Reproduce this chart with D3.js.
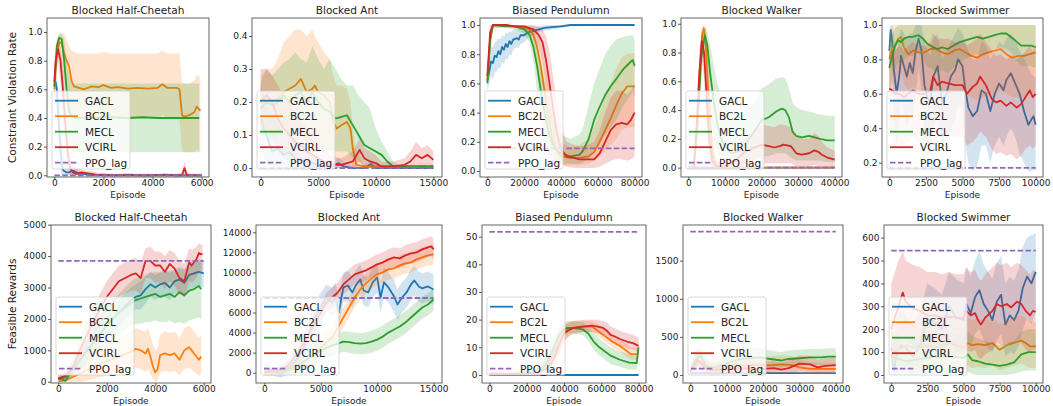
<!DOCTYPE html>
<html><head><meta charset="utf-8">
<script src="https://cdn.jsdelivr.net/npm/d3@7/dist/d3.min.js"></script>
<style>body{margin:0;background:#fff}svg{display:block}text{font-family:"DejaVu Sans",sans-serif;fill:#222}</style>
</head><body>
<script>
// ---------- categories / labels ----------
const seriesNames = ["GACL","BC2L","MECL","VCIRL","PPO_lag"];
const envTitles = ["Blocked Half-Cheetah","Blocked Ant","Biased Pendulumn","Blocked Walker","Blocked Swimmer"];
const rowLabels = ["Constraint Violation Rate","Feasible Rewards"];
const xLabel = "Episode";
// tick labels
const hcXTicks = [0,2000,4000,6000];
const antXTicks = [0,5000,10000,15000];
const pendXTicks = [0,20000,40000,60000,80000];
const walkXTicks = [0,10000,20000,30000,40000];
const swimXTicks = [0,2500,5000,7500,10000];
const cvrTicks01 = [0,0.2,0.4,0.6,0.8,1.0];
const antCvrTicks = [0,0.1,0.2,0.3,0.4];
const swimCvrTicks = [0.2,0.4,0.6,0.8,1.0];
const hcRewTicks = [0,1000,2000,3000,4000,5000];
const antRewTicks = [0,2000,4000,6000,8000,10000,12000,14000];
const pendRewTicks = [0,10,20,30,40,50];
const walkRewTicks = [0,500,1000,1500];
const swimRewTicks = [0,100,200,300,400,500,600];
// PPO_lag constant levels and last episode of each env
const ppoCvr = [0, 0, 0.155, 0, 0.17];
const ppoRew = [3850, 7450, 51.7, 1880, 543];
const lastEpisode = [6000, 15000, 80000, 40000, 10000];

// ---------- series: [episode, mean, lower, upper] ----------
// Constraint violation rate - Blocked Half-Cheetah
const cvrHC_GACL = [[0,.63,.55,.7],[50,.65,.55,.72],[100,.6,.45,.7],[150,.45,.3,.6],[200,.3,.15,.5],[250,.18,.05,.42],[300,.08,0,.3],[350,.04,0,.18],[400,.03,0,.12],[500,.02,0,.07],[600,.02,0,.05],[700,.03,0,.06],[800,.03,0,.06],[900,.02,0,.05],[1000,.01,0,.03],[1200,.01,0,.02],[1500,0,0,.01],[2000,.005,0,.01],[2500,0,0,.01],[3000,.005,0,.01],[3500,0,0,.01],[4000,0,0,.01],[4500,.005,0,.01],[5000,0,0,.01],[5500,0,0,.01],[6000,0,0,.01]];
const cvrHC_BC2L = [[0,.6,.55,.65],[100,.85,.75,.95],[200,.93,.85,.99],[300,.92,.8,.99],[400,.85,.65,.99],[500,.8,.55,.95],[600,.76,.45,.9],[700,.66,.42,.87],[800,.62,.4,.86],[1000,.61,.4,.85],[1200,.6,.4,.85],[1500,.62,.4,.85],[1800,.615,.4,.85],[2000,.63,.41,.86],[2300,.61,.4,.85],[2600,.615,.4,.85],[3000,.605,.4,.85],[3400,.61,.4,.85],[3800,.605,.4,.85],[4200,.61,.4,.85],[4400,.635,.42,.87],[4600,.61,.4,.85],[5000,.61,.4,.85],[5100,.6,.39,.85],[5200,.42,.17,.65],[5300,.41,.16,.64],[5500,.42,.16,.64],[5700,.44,.16,.66],[5800,.48,.18,.7],[5850,.47,.17,.7],[5950,.45,.16,.68]];
const cvrHC_MECL = [[0,.62,.58,.66],[100,.9,.85,.95],[200,.96,.93,.99],[300,.95,.9,.99],[400,.8,.6,.95],[500,.6,.35,.8],[600,.45,.2,.7],[700,.41,.17,.65],[800,.4,.16,.64],[1500,.4,.16,.64],[2200,.405,.16,.64],[3000,.4,.16,.64],[3600,.405,.16,.64],[4200,.4,.16,.64],[5000,.4,.16,.64],[5900,.4,.16,.64]];
const cvrHC_VCIRL = [[0,.65,.6,.7],[50,.8,.7,.9],[150,.88,.8,.95],[250,.8,.65,.9],[350,.6,.4,.75],[450,.35,.15,.5],[550,.15,.05,.3],[650,.05,0,.15],[750,.02,0,.08],[900,.01,0,.05],[1100,.02,0,.04],[1300,.015,0,.03],[1500,.01,0,.03],[1700,.005,0,.02],[2000,0,0,.01],[3000,0,0,.01],[4000,0,0,.01],[5000,0,0,.01],[5200,0,0,.02],[5300,.05,0,.1],[5400,0,0,.02],[5600,0,0,.01],[6000,0,0,.01]];
// Constraint violation rate - Blocked Ant
const cvrAnt_GACL = [[0,.15,.05,.25],[500,.1,.02,.2],[1000,.05,0,.15],[1500,.06,0,.14],[2000,.04,0,.1],[2500,.05,0,.12],[3000,.03,0,.08],[4000,.02,0,.05],[5000,.01,0,.03],[6000,.005,0,.02],[6800,.015,0,.03],[7200,.005,0,.02],[8000,0,0,.01],[9000,0,0,.01],[9600,.012,0,.02],[10000,0,0,.01],[11000,0,0,.005],[15000,0,0,.005]];
const cvrAnt_BC2L = [[0,.2,.12,.28],[500,.22,.1,.3],[1000,.2,.08,.3],[1500,.21,.1,.33],[2000,.23,.1,.38],[2500,.24,.08,.4],[3000,.25,.08,.42],[3500,.27,.1,.42],[4000,.23,.07,.4],[4500,.24,.08,.42],[4700,.25,.08,.4],[5000,.23,.06,.38],[5500,.22,.05,.35],[6000,.2,.05,.33],[6300,.14,.03,.28],[6600,.12,.02,.25],[7000,.13,.02,.25],[7500,.14,.02,.24],[7800,.12,.02,.2],[8000,.06,0,.12],[8300,.01,0,.05],[9000,.005,0,.01],[10000,.005,0,.01],[15000,.005,0,.01]];
const cvrAnt_MECL = [[0,.18,.1,.26],[500,.2,.1,.3],[1000,.19,.08,.28],[1500,.2,.1,.3],[2000,.22,.12,.32],[2500,.2,.1,.33],[3000,.22,.12,.35],[3500,.23,.1,.33],[4000,.2,.08,.32],[4500,.23,.1,.37],[5000,.2,.08,.33],[5500,.18,.06,.3],[6000,.17,.05,.33],[6500,.15,.05,.3],[7000,.155,.05,.27],[7500,.16,.05,.25],[8000,.13,.03,.25],[8500,.1,.02,.22],[9000,.07,.01,.2],[9500,.06,0,.18],[10000,.05,0,.12],[10500,.04,0,.08],[11000,.02,0,.05],[11500,.005,0,.02],[12000,.005,0,.01],[15000,.005,0,.01]];
const cvrAnt_VCIRL = [[0,.2,.1,.3],[500,.22,.12,.3],[1000,.2,.1,.28],[1500,.15,.05,.25],[2000,.12,.03,.22],[2500,.1,.02,.2],[3000,.08,.01,.16],[3500,.07,0,.15],[4000,.05,0,.12],[5000,.03,0,.08],[6000,.01,0,.04],[7000,.01,0,.03],[8000,.02,0,.05],[8600,.055,.02,.09],[9000,.03,0,.06],[9500,.02,0,.05],[10000,.015,0,.04],[10500,.005,0,.02],[11500,.005,0,.02],[12500,.01,0,.03],[13000,.02,0,.05],[13500,.04,.01,.08],[14000,.03,0,.06],[14500,.04,.01,.07],[15000,.025,0,.05]];
// Constraint violation rate - Biased Pendulumn
const cvrPend_GACL = [[0,.62,.55,.7],[1000,.68,.6,.78],[2000,.75,.65,.85],[3000,.74,.63,.85],[4000,.79,.68,.88],[5000,.78,.68,.89],[6000,.82,.71,.91],[7000,.8,.7,.9],[8000,.85,.75,.93],[9000,.83,.73,.92],[10000,.87,.77,.95],[11000,.85,.76,.94],[12000,.89,.8,.96],[13000,.87,.79,.95],[14000,.9,.83,.97],[16000,.91,.85,.97],[17000,.9,.84,.97],[18000,.93,.87,.98],[20000,.93,.88,.98],[22000,.95,.91,.99],[25000,.96,.93,.99],[28000,.97,.95,.99],[31000,.98,.96,1],[35000,.985,.97,1],[40000,.99,.98,1],[45000,1,.99,1],[50000,1,.99,1],[60000,1,1,1],[70000,1,1,1],[80000,1,1,1]];
const cvrPend_BC2L = [[0,.62,.6,.66],[1500,.9,.8,.97],[3000,1,.98,1],[10000,1,.99,1],[15000,.99,.98,1],[20000,.985,.96,1],[23000,.97,.93,.99],[25000,.93,.85,.98],[27000,.85,.72,.95],[29000,.72,.55,.88],[31000,.55,.38,.75],[33000,.38,.22,.6],[35000,.24,.12,.45],[37000,.15,.07,.3],[40000,.1,.04,.2],[45000,.09,.04,.16],[50000,.09,.04,.18],[55000,.1,.05,.22],[58000,.13,.07,.3],[61000,.2,.1,.4],[64000,.28,.14,.5],[67000,.36,.18,.6],[70000,.45,.22,.7],[73000,.53,.28,.78],[76000,.58,.3,.8],[80000,.58,.3,.81]];
const cvrPend_MECL = [[0,.6,.58,.64],[1500,.9,.8,.97],[3000,1,.98,1],[10000,.99,.98,1],[15000,.99,.97,1],[20000,.97,.94,.99],[23000,.93,.88,.98],[25000,.85,.75,.95],[27000,.72,.55,.88],[29000,.55,.35,.75],[31000,.4,.2,.62],[33000,.28,.12,.5],[35000,.2,.07,.38],[37000,.15,.05,.3],[40000,.12,.05,.25],[45000,.1,.05,.22],[50000,.11,.05,.25],[52000,.14,.06,.3],[55000,.22,.08,.45],[58000,.35,.15,.6],[61000,.44,.2,.7],[64000,.52,.25,.8],[67000,.58,.3,.86],[70000,.63,.35,.9],[74000,.7,.45,.92],[78000,.75,.52,.93],[79000,.76,.55,.93],[80000,.72,.5,.9]];
const cvrPend_VCIRL = [[0,.65,.6,.7],[1500,.95,.9,1],[3000,1,.99,1],[10000,1,.99,1],[15000,.99,.98,1],[20000,.99,.97,1],[25000,.97,.93,1],[28000,.93,.85,.99],[30000,.88,.75,.97],[32000,.75,.55,.92],[34000,.58,.35,.8],[36000,.4,.2,.62],[38000,.25,.1,.45],[40000,.15,.05,.32],[43000,.1,.03,.2],[47000,.09,.02,.18],[50000,.08,.02,.17],[55000,.08,.02,.18],[58000,.08,.02,.2],[61000,.12,.03,.28],[64000,.2,.05,.4],[67000,.28,.07,.5],[70000,.32,.08,.55],[73000,.33,.08,.55],[76000,.32,.07,.52],[78000,.35,.08,.55],[80000,.4,.1,.6]];
// Constraint violation rate - Blocked Walker
const cvrWalk_GACL = [[0,0,0,0],[10000,0,0,0],[20000,0,0,0],[30000,0,0,0],[40000,0,0,0]];
const cvrWalk_BC2L = [[0,0,0,0],[1500,0,0,.02],[2500,.3,.15,.45],[3200,.7,.5,.85],[3800,.92,.8,.98],[4200,.97,.9,.99],[4700,.9,.75,.98],[5300,.6,.35,.8],[6000,.3,.1,.5],[6700,.1,0,.25],[7500,.02,0,.08],[9000,0,0,.02],[15000,0,0,0],[40000,0,0,0]];
const cvrWalk_MECL = [[0,0,0,0],[1500,0,0,.02],[2500,.3,.2,.45],[3500,.75,.6,.9],[4500,.92,.85,.98],[5200,.85,.7,.95],[6000,.65,.4,.85],[7000,.45,.2,.7],[8000,.3,.1,.58],[9000,.2,.05,.5],[10000,.15,.03,.45],[11000,.12,.02,.4],[12000,.1,.01,.35],[14000,.12,.02,.35],[16000,.18,.03,.4],[18000,.25,.05,.45],[20000,.33,.08,.55],[22000,.35,.08,.58],[24000,.39,.1,.62],[25500,.41,.1,.63],[26500,.4,.1,.62],[27500,.35,.08,.55],[28500,.25,.06,.45],[29500,.22,.05,.42],[31000,.21,.05,.4],[33000,.22,.05,.39],[34500,.21,.05,.38],[36000,.2,.05,.37],[38000,.19,.04,.36],[40000,.19,.04,.36]];
const cvrWalk_VCIRL = [[0,0,0,0],[1500,0,0,.02],[2300,.3,.15,.45],[3000,.65,.45,.8],[3700,.88,.78,.95],[4300,.8,.6,.92],[5000,.5,.25,.7],[5700,.2,.05,.4],[6500,.05,0,.15],[7500,.01,0,.05],[9000,.005,0,.03],[11000,.02,0,.06],[13000,.05,0,.12],[15000,.1,.01,.2],[17000,.13,.02,.25],[19000,.15,.03,.28],[20000,.16,.03,.3],[22000,.15,.03,.29],[23500,.14,.03,.28],[25000,.15,.03,.3],[26000,.16,.03,.3],[28000,.15,.03,.28],[29500,.1,.01,.22],[31000,.09,.01,.2],[33000,.1,.01,.2],[34500,.12,.02,.24],[35500,.11,.01,.22],[36500,.09,.01,.18],[38000,.07,0,.14],[40000,.055,0,.12]];
// Constraint violation rate - Blocked Swimmer
const cvrSwim_GACL = [[0,.85,.7,.98],[100,.97,.9,1],[200,.9,.75,1],[300,.75,.5,.95],[500,.6,.3,.85],[700,.72,.45,.95],[800,.82,.6,.98],[1000,.76,.5,.95],[1200,.7,.4,.92],[1400,.78,.5,.95],[1600,.72,.45,.95],[1800,.85,.6,1],[2000,.92,.75,1],[2200,.85,.6,1],[2400,.65,.35,.9],[2600,.58,.3,.85],[2800,.55,.25,.82],[3000,.7,.4,.92],[3300,.76,.5,.95],[3600,.55,.25,.8],[3900,.6,.3,.85],[4200,.7,.4,.9],[4500,.74,.45,.95],[4700,.8,.55,.98],[5000,.76,.5,.95],[5200,.62,.3,.9],[5400,.52,.2,.85],[5700,.47,.15,.8],[6000,.5,.18,.8],[6300,.62,.3,.9],[6600,.6,.3,.88],[6900,.5,.2,.8],[7200,.6,.3,.85],[7500,.66,.35,.9],[7800,.62,.3,.88],[8000,.68,.35,.92],[8300,.72,.4,.95],[8600,.66,.35,.92],[8900,.6,.25,.85],[9200,.5,.2,.8],[9500,.42,.15,.75],[9700,.45,.15,.72],[9850,.47,.16,.7],[10000,.42,.15,.7]];
const cvrSwim_BC2L = [[0,.8,.6,.95],[200,.86,.65,1],[400,.88,.68,1],[600,.92,.72,1],[800,.93,.74,1],[1000,.87,.66,1],[1300,.83,.62,1],[1600,.85,.64,1],[2000,.84,.62,1],[2400,.84,.62,1],[2800,.86,.63,1],[3200,.86,.62,1],[3600,.84,.6,1],[4000,.83,.6,1],[4400,.85,.6,1],[4800,.86,.62,1],[5200,.84,.6,1],[5600,.82,.58,1],[6000,.81,.56,1],[6400,.83,.58,1],[6800,.84,.6,1],[7200,.85,.6,1],[7600,.86,.62,1],[8000,.83,.6,1],[8400,.81,.58,1],[8800,.82,.58,1],[9200,.82,.58,1],[9600,.83,.6,1],[10000,.84,.6,1]];
const cvrSwim_MECL = [[0,.75,.6,.9],[200,.82,.7,.95],[400,.88,.75,.98],[600,.91,.78,1],[800,.9,.78,1],[1000,.92,.8,1],[1300,.93,.82,1],[1600,.93,.82,1],[2000,.94,.84,1],[2300,.92,.8,1],[2600,.89,.76,1],[3000,.87,.74,1],[3300,.86,.72,1],[3600,.87,.74,1],[4000,.86,.72,1],[4400,.88,.75,1],[4800,.9,.78,1],[5200,.91,.8,1],[5600,.92,.82,1],[6000,.93,.83,1],[6400,.92,.82,1],[6800,.93,.84,1],[7200,.94,.86,1],[7600,.95,.87,1],[8000,.95,.86,1],[8300,.93,.84,1],[8600,.91,.8,1],[9000,.88,.76,1],[9400,.88,.76,1],[9700,.88,.76,1],[10000,.87,.75,1]];
const cvrSwim_VCIRL = [[0,.63,.35,.85],[200,.62,.35,.85],[400,.6,.3,.85],[700,.6,.3,.88],[1000,.58,.3,.85],[1300,.6,.32,.88],[1600,.62,.35,.9],[2000,.6,.32,.88],[2500,.6,.3,.88],[2800,.62,.3,.9],[3000,.7,.4,.95],[3300,.65,.35,.92],[3600,.67,.35,.92],[4000,.66,.35,.92],[4500,.65,.35,.9],[5000,.65,.35,.9],[5300,.6,.3,.88],[5700,.64,.32,.9],[6000,.66,.35,.92],[6200,.7,.38,.95],[6600,.65,.35,.9],[7000,.57,.28,.85],[7300,.55,.25,.82],[7600,.56,.26,.83],[8000,.53,.24,.8],[8300,.55,.25,.82],[8700,.52,.22,.8],[9000,.54,.24,.82],[9300,.58,.28,.85],[9600,.62,.3,.88],[9800,.58,.28,.85],[10000,.6,.3,.88]];

// Feasible rewards - Blocked Half-Cheetah
const rewHC_GACL = [[0,100,50,200],[300,150,50,300],[600,400,200,600],[1000,800,500,1100],[1500,1300,1000,1700],[2000,1800,1400,2200],[2500,2200,1800,2600],[3000,2600,2200,3000],[3200,2700,2300,3100],[3400,2750,2300,3200],[3600,2950,2500,3350],[3800,3100,2700,3500],[4000,3000,2600,3400],[4200,3100,2700,3500],[4400,3150,2700,3550],[4600,3000,2600,3450],[4800,3200,2800,3600],[5000,3250,2800,3650],[5200,3150,2700,3600],[5400,3400,2950,3800],[5600,3450,3000,3850],[5800,3500,3050,3900],[6000,3450,3000,3850]];
const rewHC_BC2L = [[0,0,0,100],[300,50,0,200],[600,150,0,400],[1000,300,0,700],[1500,500,100,1000],[2000,650,200,1200],[2500,800,300,1400],[3000,950,400,1600],[3200,1050,450,1700],[3400,1000,400,1650],[3600,900,300,1600],[3700,1050,400,1700],[3800,800,250,1500],[3900,500,100,1200],[4000,300,0,1000],[4100,400,50,1100],[4200,850,300,1500],[4400,900,350,1600],[4600,850,300,1550],[4800,900,350,1600],[5000,700,200,1400],[5200,1000,400,1700],[5400,1100,450,1800],[5500,1000,400,1700],[5600,900,300,1600],[5800,700,200,1400],[5900,800,250,1500]];
const rewHC_MECL = [[0,100,50,150],[150,80,30,150],[300,30,0,100],[500,300,100,500],[1000,800,400,1200],[1500,1300,800,1800],[2000,1800,1200,2400],[2500,2200,1500,2800],[3000,2500,1800,3200],[3200,2600,1850,3300],[3400,2650,1850,3350],[3600,2700,1900,3400],[3800,2750,1900,3450],[4000,2800,1950,3500],[4200,2700,1900,3450],[4400,2750,1900,3500],[4600,2800,1950,3550],[4800,2700,1850,3500],[5000,2850,1900,3600],[5200,2750,1850,3550],[5400,2900,1950,3700],[5600,2950,2000,3750],[5800,3050,2050,3850],[5900,2950,2000,3800]];
const rewHC_VCIRL = [[0,100,50,200],[300,200,100,350],[600,450,250,700],[1000,1200,800,1600],[1500,2000,1500,2500],[2000,2700,2200,3200],[2500,3200,2700,3700],[3000,3400,2900,3900],[3200,3450,2900,3950],[3400,3300,2800,3800],[3600,3850,3300,4250],[3800,3850,3300,4300],[4000,3700,3150,4150],[4200,3700,3150,4150],[4400,3500,2950,4000],[4600,3750,3200,4200],[4800,3600,3050,4100],[5000,3300,2800,3850],[5200,3200,2700,3750],[5400,3800,3200,4250],[5500,3700,3150,4200],[5700,3900,3300,4300],[5800,4100,3500,4400],[5950,4050,3500,4350]];
// Feasible rewards - Blocked Ant
const rewAnt_GACL = [[0,500,0,1000],[500,300,-200,800],[1000,0,-400,500],[1500,-100,-500,400],[2000,300,-200,900],[2500,800,0,1600],[3000,1500,500,2500],[3500,2500,1200,3800],[4000,4000,2500,5500],[4500,5500,4000,7000],[5000,6500,5000,8000],[5500,7500,6200,8800],[6000,7000,5500,8500],[6300,7500,6000,9000],[6600,6000,4500,7500],[7000,8500,7000,10000],[7400,8700,7200,10200],[7800,8000,6500,9500],[8100,8700,7200,10200],[8500,9300,7800,10800],[8800,8200,6700,9700],[9200,8000,6500,9500],[9600,9000,7500,10500],[10000,9500,8000,11000],[10300,7500,6000,9000],[10600,9000,7500,10500],[11000,8500,7000,10000],[11500,7600,6000,9200],[11800,6800,5300,8300],[12200,7500,6000,9000],[12600,8000,6500,9500],[13000,8800,7300,10300],[13300,9200,7700,10700],[13700,8600,7100,10100],[14000,8400,6900,9900],[14500,8600,7100,10100],[15000,8300,6800,9800]];
const rewAnt_BC2L = [[0,0,-300,300],[1000,50,-300,400],[2000,200,-200,600],[3000,600,0,1200],[4000,1500,700,2300],[5000,2500,1500,3500],[5500,3000,2000,4000],[6000,3500,2500,4500],[6500,4500,3500,5500],[7000,5500,4500,6500],[7500,6500,5500,7500],[8000,7500,6500,8500],[8500,8300,7300,9300],[9000,8900,7900,9900],[9500,9400,8400,10400],[10000,9800,8800,10800],[10500,10000,9000,11000],[11000,10300,9300,11300],[11500,10400,9400,11400],[12000,10700,9700,11700],[12500,10900,9900,11900],[13000,11000,10000,12000],[13500,11300,10300,12300],[14000,11500,10500,12500],[14500,11700,10700,12700],[15000,11800,10800,12800]];
const rewAnt_MECL = [[0,0,-300,300],[1000,100,-200,500],[2000,300,-200,900],[3000,800,0,1600],[4000,1500,500,2500],[5000,2200,1200,3200],[5500,2500,1500,3500],[6000,2700,1700,3700],[6500,2900,1900,3900],[7000,3100,2100,4100],[7500,3050,2000,4100],[8000,2950,1900,4000],[8500,2900,1850,3950],[9000,2950,1900,4000],[9500,3100,2000,4200],[10000,3300,2200,4400],[10500,3600,2500,4700],[11000,4000,2900,5100],[11500,4300,3200,5400],[12000,4600,3500,5700],[12500,5000,3900,6100],[13000,5500,4400,6600],[13500,6000,4900,7100],[14000,6500,5400,7600],[14500,6800,5700,7900],[15000,7300,6200,8400]];
const rewAnt_VCIRL = [[0,100,-200,400],[1000,200,-200,600],[2000,600,0,1200],[3000,2000,1000,3000],[4000,4000,3000,5000],[5000,6000,5000,7000],[5500,7000,6000,8000],[6000,7500,6500,8500],[6500,8000,7000,9000],[7000,8800,7800,9800],[7500,9300,8300,10300],[8000,9800,8800,10800],[8500,10000,9000,11000],[9000,10200,9200,11200],[9500,10500,9500,11500],[10000,10800,9800,11800],[10500,11000,10000,12000],[11000,11300,10300,12300],[11500,11500,10500,12500],[12000,11400,10400,12400],[12500,11700,10700,12700],[13000,11900,10900,12900],[13500,12000,11000,13000],[14000,12300,11300,13300],[14500,12500,11500,13500],[14800,12600,11600,13600],[15000,12300,11300,13300]];
// Feasible rewards - Biased Pendulumn
const rewPend_GACL = [[0,0,0,0],[20000,0,0,0],[40000,0,0,0],[60000,0,0,0],[80000,0,0,0]];
const rewPend_BC2L = [[0,.5,0,1.5],[10000,.3,0,1],[20000,.5,0,1.5],[25000,1,0,2.5],[28000,2,.5,4],[31000,4,1.5,7],[34000,7,3.5,11],[37000,11,7,15],[40000,15,12,18],[42000,16.5,14,19],[45000,17,15,19.5],[50000,17.5,15.5,19.5],[55000,17.5,15.5,19.5],[58000,16,14,18.5],[60000,15,13,17.5],[63000,13.5,11.5,16],[66000,12,10,14.5],[70000,10.5,8.5,13],[73000,9,7,11.5],[76000,7.5,5.5,10],[79000,7.5,5.5,10],[80000,8,6,10.5]];
const rewPend_MECL = [[0,.3,0,1],[10000,.3,0,1],[20000,.5,0,1.5],[25000,1,0,2.5],[28000,2,.5,4.5],[31000,5,2,9],[34000,9,5,13],[37000,14,10,17],[40000,16.5,14,19],[42000,17,15,19.5],[45000,17,15,19.5],[50000,16.5,14.5,19],[53000,15,12.5,17.5],[56000,12,9,15],[59000,10,7,13],[62000,8.5,5.5,11.5],[65000,7,4,10],[70000,5.5,3,8.5],[75000,4.5,2,7.5],[79000,4.3,2,7],[80000,10,7,13]];
const rewPend_VCIRL = [[0,.3,0,1],[10000,.3,0,1],[20000,.5,0,1.5],[25000,.8,0,2],[30000,2,.5,4],[33000,4,1.5,7],[36000,8,4.5,12],[38000,12,8.5,15.5],[40000,15,12,18],[42000,16,13.5,18.5],[45000,17,15,19.5],[50000,17.5,15.5,20],[55000,17.8,15.5,20],[58000,17.5,15,20],[61000,17,14.5,19.5],[63000,16,13.5,19],[65000,14.5,12,17.5],[67000,14,11.5,17],[70000,13,10.5,16],[74000,12,9.5,15],[77000,11.5,9,14.5],[80000,10.5,8,13.5]];
// Feasible rewards - Blocked Walker
const rewWalk_GACL = [[0,25,15,35],[10000,25,15,35],[20000,25,15,35],[30000,25,15,35],[40000,25,15,35]];
const rewWalk_BC2L = [[0,50,0,100],[1000,100,20,200],[2000,150,50,280],[3000,180,60,320],[4000,120,20,250],[5000,60,0,150],[7000,80,0,180],[10000,100,20,220],[13000,120,30,240],[16000,130,40,260],[20000,130,40,250],[22000,125,40,240],[25000,140,50,260],[28000,130,40,250],[30000,100,20,200],[33000,80,10,170],[36000,80,10,160],[40000,80,10,160]];
const rewWalk_MECL = [[0,50,0,100],[1000,150,50,250],[2000,230,100,350],[3000,250,120,380],[4000,150,40,280],[5000,100,20,220],[7000,100,20,230],[10000,150,50,280],[13000,200,80,330],[16000,220,100,350],[19000,230,110,350],[22000,210,100,320],[25000,190,90,300],[27000,210,110,320],[30000,220,120,330],[33000,230,130,340],[36000,230,130,340],[38000,240,140,350],[40000,240,140,350]];
const rewWalk_VCIRL = [[0,50,0,120],[1000,120,30,250],[2000,200,80,350],[3000,150,50,280],[4000,90,10,200],[6000,60,0,150],[9000,70,0,160],[12000,80,10,170],[16000,90,20,180],[20000,80,10,170],[23000,90,20,180],[25000,70,10,160],[27000,90,20,190],[30000,150,50,260],[33000,140,40,250],[35000,100,20,200],[37000,120,30,220],[40000,130,40,230]];
// Feasible rewards - Blocked Swimmer
const rewSwim_GACL = [[0,120,20,250],[200,20,0,150],[400,100,0,250],[700,130,20,280],[1000,120,20,260],[1500,80,0,220],[2000,130,20,280],[2500,250,100,400],[3000,230,80,380],[3500,200,60,350],[4000,300,150,450],[4500,250,100,420],[5000,240,100,400],[5200,310,150,470],[5500,270,120,430],[5800,340,180,500],[6100,370,200,540],[6400,310,150,480],[6700,280,120,450],[7000,240,100,420],[7300,320,150,490],[7600,350,180,520],[7900,220,80,400],[8200,260,100,430],[8500,240,90,410],[8800,280,120,460],[9100,380,200,560],[9400,430,250,600],[9700,400,220,610],[10000,450,280,620]];
const rewSwim_BC2L = [[0,100,20,200],[500,110,20,220],[1000,130,30,240],[1500,120,20,230],[2000,120,20,230],[2500,130,30,240],[3000,120,20,230],[3500,125,25,235],[4000,140,40,250],[4500,130,30,240],[5000,120,20,230],[5300,140,40,250],[5600,130,30,240],[6000,135,35,245],[6500,130,30,240],[7000,140,40,250],[7500,110,20,220],[8000,130,30,240],[8500,140,40,250],[9000,150,50,260],[9300,140,40,250],[9600,125,30,235],[10000,125,30,230]];
const rewSwim_MECL = [[0,80,10,180],[500,70,5,170],[1000,60,0,160],[2000,70,0,170],[3000,80,5,180],[4000,80,10,180],[5000,75,5,180],[5300,90,15,190],[5600,65,5,170],[6000,60,0,160],[6500,50,0,150],[7000,45,0,140],[7500,40,0,130],[8000,45,0,140],[8500,55,5,150],[9000,90,15,190],[9500,100,20,200],[10000,100,20,200]];
const rewSwim_VCIRL = [[0,200,80,400],[300,260,100,460],[500,300,130,500],[800,360,180,540],[1000,320,150,500],[1500,290,130,480],[2000,280,120,470],[2500,260,100,450],[3000,260,100,450],[3500,250,90,440],[4000,255,90,450],[4500,250,90,440],[5000,250,90,440],[5200,280,110,470],[5500,260,100,450],[5800,270,110,460],[6000,240,80,430],[6200,220,70,410],[6500,250,90,440],[7000,280,110,470],[7300,310,140,490],[7600,300,130,480],[8000,310,140,490],[8300,295,130,470],[8700,320,150,490],[9000,310,140,480],[9300,280,110,460],[9600,260,100,440],[9800,280,110,460],[10000,275,110,450]];

// ---------- layout ----------
const W = 1053, H = 406;
const colors = ["#1f77b4","#ff7f0e","#2ca02c","#d62728","#9467bd"];
const rows = [{t:18,b:177},{t:225,b:383}];
const frames = [
  [[47,209],[252,442],[480,642],[681,842],[882,1043]],
  [[51,211],[256,442],[482,646],[683,843],[884,1043]]
];
const xDomains = [[-300,6300],[-750,15750],[-4000,84000],[-2000,42000],[-500,10500]];
const xTicksAll = [hcXTicks, antXTicks, pendXTicks, walkXTicks, swimXTicks];
const yDomains = [
  [[-0.012,1.098],[-0.027,0.4545],[-0.041,1.048],[-0.065,1.04],[0.117,1.04]],
  [[-40,4990],[-1027,14728],[-2.9,54.2],[-105,1968],[-35,655]]
];
const yTicksAll = [[cvrTicks01, antCvrTicks, cvrTicks01, cvrTicks01, swimCvrTicks],
                   [hcRewTicks, antRewTicks, pendRewTicks, walkRewTicks, swimRewTicks]];
const yFormats = [".1f", "d"];
const dataAll = [
  [[cvrHC_GACL,cvrHC_BC2L,cvrHC_MECL,cvrHC_VCIRL],[cvrAnt_GACL,cvrAnt_BC2L,cvrAnt_MECL,cvrAnt_VCIRL],[cvrPend_GACL,cvrPend_BC2L,cvrPend_MECL,cvrPend_VCIRL],[cvrWalk_GACL,cvrWalk_BC2L,cvrWalk_MECL,cvrWalk_VCIRL],[cvrSwim_GACL,cvrSwim_BC2L,cvrSwim_MECL,cvrSwim_VCIRL]],
  [[rewHC_GACL,rewHC_BC2L,rewHC_MECL,rewHC_VCIRL],[rewAnt_GACL,rewAnt_BC2L,rewAnt_MECL,rewAnt_VCIRL],[rewPend_GACL,rewPend_BC2L,rewPend_MECL,rewPend_VCIRL],[rewWalk_GACL,rewWalk_BC2L,rewWalk_MECL,rewWalk_VCIRL],[rewSwim_GACL,rewSwim_BC2L,rewSwim_MECL,rewSwim_VCIRL]]
];
const ppoAll = [ppoCvr, ppoRew];

const svg = d3.select("body").append("svg").attr("width",W).attr("height",H);
svg.append("rect").attr("width",W).attr("height",H).attr("fill","#fff");

rows.forEach((row, r) => {
  svg.append("text").attr("transform",`translate(15.5,${(row.t+row.b)/2}) rotate(-90)`)
    .attr("text-anchor","middle").style("font-size","10.5px").text(rowLabels[r]);
  for (let p = 0; p < 5; p++) {
    const [l, rr] = frames[r][p];
    const x = d3.scaleLinear().domain(xDomains[p]).range([l, rr]);
    const y = d3.scaleLinear().domain(yDomains[r][p]).range([row.b, row.t]);
    const g = svg.append("g");
    const cid = `clip${r}${p}`;
    g.append("clipPath").attr("id",cid).append("rect")
      .attr("x",l).attr("y",row.t).attr("width",rr-l).attr("height",row.b-row.t);
    const plot = g.append("g").attr("clip-path",`url(#${cid})`);
    const line = d3.line().x(d=>x(d[0])).y(d=>y(d[1]));
    const area = d3.area().x(d=>x(d[0])).y0(d=>y(d[2])).y1(d=>y(d[3]));
    dataAll[r][p].forEach((s, i) => {
      plot.append("path").attr("d",line(s)).attr("fill","none").attr("stroke",colors[i])
        .attr("stroke-width",1.8).attr("stroke-linejoin","round");
      plot.append("path").attr("d",area(s)).attr("fill",colors[i]).attr("fill-opacity",0.2);
    });
    const pv = ppoAll[r][p];
    plot.append("path").attr("d",line([[0,pv],[lastEpisode[p],pv]])).attr("fill","none")
      .attr("stroke",colors[4]).attr("stroke-width",1.8).attr("stroke-dasharray","5.5,2.4");
    g.append("rect").attr("x",l).attr("y",row.t).attr("width",rr-l).attr("height",row.b-row.t)
      .attr("fill","none").attr("stroke","#555").attr("stroke-width",0.9);
    const ax = g.append("g").attr("transform",`translate(0,${row.b})`)
      .call(d3.axisBottom(x).tickValues(xTicksAll[p]).tickFormat(d3.format("d")).tickSize(3).tickPadding(0));
    const ay = g.append("g").attr("transform",`translate(${l},0)`)
      .call(d3.axisLeft(y).tickValues(yTicksAll[r][p]).tickFormat(d3.format(yFormats[r])).tickSize(3).tickPadding(1.5));
    [ax, ay].forEach(a => {
      a.select(".domain").remove();
      a.selectAll(".tick line").attr("stroke","#333").attr("stroke-width",0.8);
      a.selectAll(".tick text").attr("fill","#222").style("font-size","9px").style("font-family","DejaVu Sans");
    });
    g.append("text").attr("x",(l+rr)/2).attr("y",row.t-4).attr("text-anchor","middle")
      .style("font-size","10.5px").text(envTitles[p]);
    g.append("text").attr("x",(l+rr)/2).attr("y",row.b+20.5).attr("text-anchor","middle")
      .style("font-size","9px").text(xLabel);
    const lx = l + 5, lh = 78, lw = 78, ly = row.b - 8 - lh;
    const lg = g.append("g");
    lg.append("rect").attr("x",lx).attr("y",ly).attr("width",lw).attr("height",lh).attr("rx",2)
      .attr("fill","#fff").attr("fill-opacity",0.8).attr("stroke","#d0d0d0").attr("stroke-width",0.8);
    seriesNames.forEach((nm, i) => {
      const cy = ly + 9.7 + i*15.5;
      lg.append("line").attr("x1",lx+3).attr("x2",lx+26).attr("y1",cy).attr("y2",cy)
        .attr("stroke",colors[i]).attr("stroke-width",1.8)
        .attr("stroke-dasharray", i === 4 ? "5.5,2.4" : null);
      lg.append("text").attr("x",lx+33).attr("y",cy+4).style("font-size","10.5px").text(nm);
    });
  }
});
</script>
</body></html>
